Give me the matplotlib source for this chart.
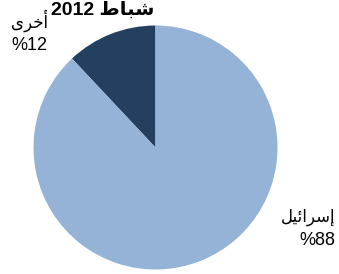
import matplotlib
matplotlib.use("Agg")
import matplotlib.pyplot as plt

# Shares (percent), Arabic text written in presentation forms, visual order
labels = ["\uFEEF\uFEAE\uFEA7\uFE83", "\uFEDE\uFEF4\uFE8B\uFE8D\uFEAE\uFEB3\uFE87"]
values = [12, 88]
pct_labels = ["%12", "%88"]
colors = ["#253F60", "#95B3D7"]
title = "2012 \uFEC1\uFE8E\uFE92\uFEB7"

fonts = ["Liberation Sans", "DejaVu Sans"]

fig = plt.figure(figsize=(3.39, 2.74), dpi=100)
ax = fig.add_axes([0.0988, 0.0164, 0.7198, 0.8905])
ax.pie(values, colors=colors, startangle=90, counterclock=True)
ax.set_xlim(-1, 1)
ax.set_ylim(-1, 1)
ax.set_aspect("equal")

fig.text(0.302, 0.962, title, ha="center", va="center", fontsize=14,
         fontweight="bold", family=fonts)
fig.text(0.088, 0.925, labels[0], ha="center", va="center", fontsize=12, family=fonts)
fig.text(0.088, 0.835, pct_labels[0], ha="center", va="center", fontsize=13, family=fonts)
fig.text(0.99, 0.208, labels[1], ha="right", va="center", fontsize=12, family=fonts)
fig.text(0.99, 0.122, pct_labels[1], ha="right", va="center", fontsize=13, family=fonts)

fig.savefig("out.png", dpi=100)
